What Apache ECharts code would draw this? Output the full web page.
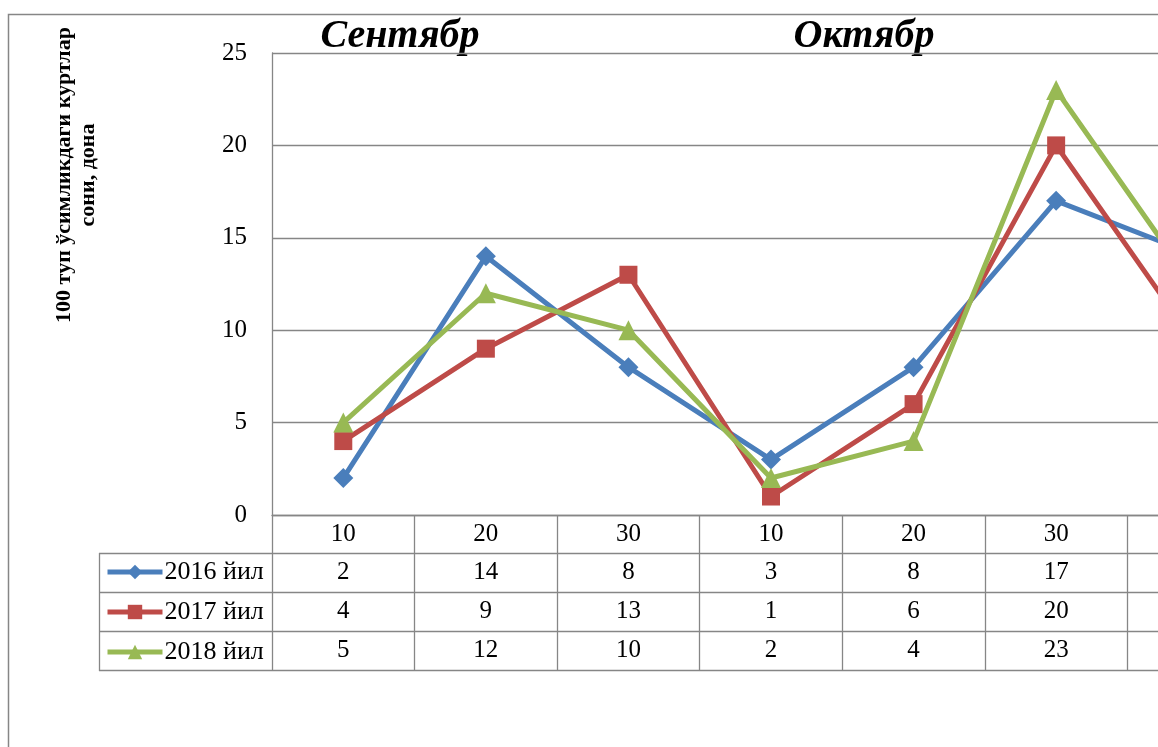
<!DOCTYPE html>
<html>
<head>
<meta charset="utf-8">
<script src="https://cdn.jsdelivr.net/npm/echarts@6/dist/echarts.min.js"></script>
<style>
html,body{margin:0;padding:0;overflow:hidden;background:#fff;width:1158px;height:747px;}
#c{width:1300px;height:747px;}
</style>
</head>
<body>
<div id="c"></div>
<script>
// ---- data ----
var categories = ['10', '20', '30', '10', '20', '30', '10'];
var months = ['Сентябр', 'Октябр'];
var seriesNames = ['2016 йил', '2017 йил', '2018 йил'];
var y2016 = [2, 14, 8, 3, 8, 17, 14];
var y2017 = [4, 9, 13, 1, 6, 20, 9];
var y2018 = [5, 12, 10, 2, 4, 23, 12];
var yTicks = [0, 5, 10, 15, 20, 25];
var yAxisTitle = '100 туп ўсимликдаги куртлар\nсони, дона';

// ---- style ----
var FONT = 'Liberation Serif';
var GRAY = '#868686';
var colors = ['#4A7EBB', '#BE4B48', '#98B954'];
var symbols = ['diamond', 'rect', 'triangle'];
var symbolSizes = [20, 18, 20];
var rowOffsets = [38, 77, 116];
var allValues = [y2016, y2017, y2018];

var chart = echarts.init(document.getElementById('c'), null, {renderer: 'canvas'});

var xAxes = [{
  type: 'category',
  data: categories,
  position: 'bottom',
  boundaryGap: true,
  axisLine: {show: true, lineStyle: {color: GRAY, width: 1.3}},
  axisTick: {show: true, interval: 0, length: 155, lineStyle: {color: GRAY, width: 1.3}},
  axisLabel: {interval: 0, margin: 7, fontSize: 25, fontFamily: FONT, color: '#000'},
  splitLine: {show: false}
}];
allValues.forEach(function (vals, i) {
  xAxes.push({
    type: 'category',
    data: vals.map(String),
    position: 'bottom',
    offset: rowOffsets[i],
    boundaryGap: true,
    axisLine: {show: false},
    axisTick: {show: false},
    axisLabel: {interval: 0, margin: 7, fontSize: 25, fontFamily: FONT, color: '#000'},
    splitLine: {show: false}
  });
});

var series = allValues.map(function (vals, i) {
  return {
    name: seriesNames[i],
    type: 'line',
    data: vals,
    xAxisIndex: 0,
    symbol: symbols[i],
    symbolSize: symbolSizes[i],
    showAllSymbol: true,
    lineStyle: {color: colors[i], width: 5},
    itemStyle: {color: colors[i]},
    z: 3 + i,
    animation: false
  };
});

var hLines = [553.5, 592.5, 631.5, 670.5].map(function (y) {
  return {type: 'line', shape: {x1: 99, y1: y, x2: 1300, y2: y}, style: {stroke: GRAY, lineWidth: 1.3}, z: 1};
});

var option = {
  animation: false,
  grid: {left: 272, top: 53, right: 30, bottom: 232, containLabel: false},
  xAxis: xAxes,
  yAxis: {
    type: 'value',
    min: yTicks[0],
    max: yTicks[yTicks.length - 1],
    interval: 5,
    axisLine: {show: true, lineStyle: {color: GRAY, width: 1.3}},
    axisTick: {show: false},
    axisLabel: {margin: 25, fontSize: 25, fontFamily: FONT, color: '#000'},
    splitLine: {show: true, lineStyle: {color: GRAY, width: 1.3}}
  },
  legend: {
    orient: 'vertical',
    left: 105,
    top: 559,
    padding: 0,
    itemWidth: 55,
    itemHeight: 18,
    itemGap: 14,
    lineStyle: {width: 5},
    textStyle: {fontSize: 26, fontFamily: FONT, color: '#000', lineHeight: 25, padding: [0, 0, 0, -3]},
    data: seriesNames,
    selectedMode: false
  },
  graphic: [
    {type: 'rect', shape: {x: 8.5, y: 14.5, width: 2000, height: 1000}, style: {fill: 'none', stroke: GRAY, lineWidth: 1.5}, z: 0},
    {type: 'line', shape: {x1: 99.5, y1: 553, x2: 99.5, y2: 671}, style: {stroke: GRAY, lineWidth: 1.3}, z: 1},
    {type: 'text', x: 400, y: 37, style: {text: months[0], font: 'italic bold 40px ' + FONT, fill: '#000', textAlign: 'center', textVerticalAlign: 'middle'}},
    {type: 'text', x: 864, y: 37, style: {text: months[1], font: 'italic bold 40px ' + FONT, fill: '#000', textAlign: 'center', textVerticalAlign: 'middle'}},
    {type: 'text', x: 76, y: 175, rotation: Math.PI / 2, style: {text: yAxisTitle, font: 'bold 22px ' + FONT, lineHeight: 24, fill: '#000', textAlign: 'center', textVerticalAlign: 'middle'}}
  ].concat(hLines),
  series: series
};
chart.setOption(option);
</script>
</body>
</html>
